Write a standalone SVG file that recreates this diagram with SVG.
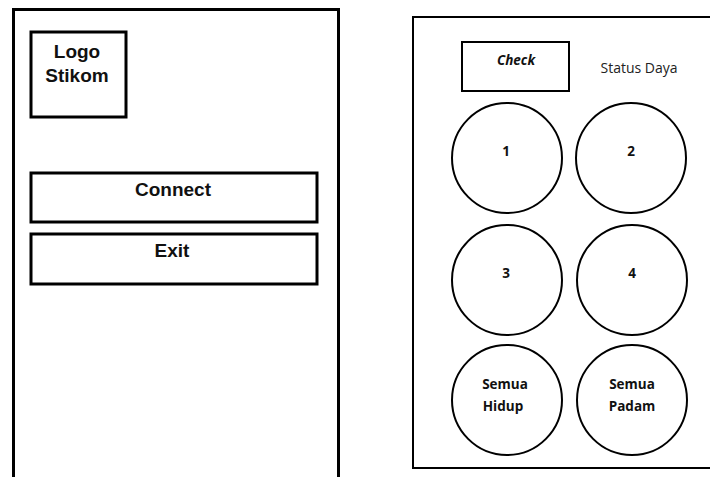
<svg xmlns="http://www.w3.org/2000/svg" width="710" height="477" viewBox="0 0 710 477">
<style>
.b3{fill:#fff;stroke:#000;stroke-width:3}
.b2{fill:none;stroke:#000;stroke-width:2}
.ar{font-family:"Liberation Sans",Arial,sans-serif;font-weight:bold;font-size:19px;fill:#111;text-anchor:middle}
.ca{font-family:"Open Sans","Noto Sans",sans-serif;font-size:14px;fill:#222;text-anchor:middle}
.cb{font-family:"Open Sans","Noto Sans",sans-serif;font-size:13.5px;font-weight:bold;fill:#111;text-anchor:middle}
</style>
<rect width="710" height="477" fill="#fff"/>
<g id="left-panel">
<path class="b3" d="M13.5,480 V9.5 H338.5 V480"/>
</g>
<g id="logo">
<rect class="b3" x="31" y="32" width="95" height="85"/>
<text class="ar" x="77" y="58">Logo</text>
<text class="ar" x="77" y="82">Stikom</text>
</g>
<g id="connect">
<rect class="b3" x="31" y="173" width="286" height="49"/>
<text class="ar" x="173" y="196">Connect</text>
</g>
<g id="exit">
<rect class="b3" x="31" y="234" width="286" height="50"/>
<text class="ar" x="172" y="257">Exit</text>
</g>
<g id="right-panel">
<path class="b2" d="M720,17 H413 V468 H720"/>
</g>
<g id="check">
<rect class="b2" x="462" y="42" width="107" height="49"/>
<text class="cb" x="516" y="65" font-style="italic">Check</text>
</g>
<g id="status">
<text class="ca" x="639" y="73">Status Daya</text>
</g>
<g id="c1"><circle class="b2" cx="507" cy="158" r="55"/><text class="cb" x="506" y="156">1</text></g>
<g id="c2"><circle class="b2" cx="631" cy="158" r="55"/><text class="cb" x="631" y="156">2</text></g>
<g id="c3"><circle class="b2" cx="507" cy="280" r="55"/><text class="cb" x="506" y="278">3</text></g>
<g id="c4"><circle class="b2" cx="632" cy="280" r="55"/><text class="cb" x="632" y="278">4</text></g>
<g id="c5"><circle class="b2" cx="507" cy="400" r="55"/><text class="cb" x="505" y="389">Semua</text><text class="cb" x="503" y="411">Hidup</text></g>
<g id="c6"><circle class="b2" cx="632" cy="400" r="55"/><text class="cb" x="632" y="389">Semua</text><text class="cb" x="632" y="411">Padam</text></g>
</svg>
